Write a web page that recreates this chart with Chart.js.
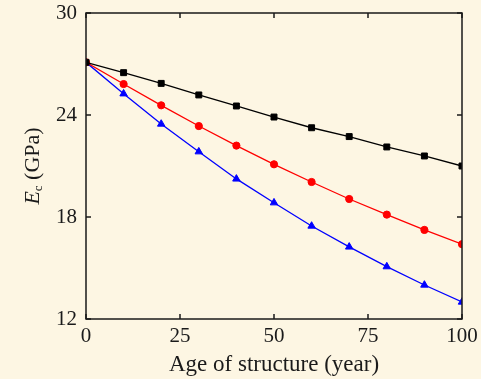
<!DOCTYPE html>
<html>
<head>
<meta charset="utf-8">
<script src="https://cdn.jsdelivr.net/npm/chart.js@4/dist/chart.umd.min.js"></script>
<style>
  html, body { margin: 0; padding: 0; background: #fdf6e3; }
  #wrap { width: 481px; height: 379px; }
</style>
</head>
<body>
<div id="wrap"><canvas id="c" width="481" height="379"></canvas></div>
<script>
// Age of structure (years)
const years = [0, 10, 20, 30, 40, 50, 60, 70, 80, 90, 100];
// Elastic modulus of concrete, E_c (GPa)
const seriesSquare   = [27.1, 26.49, 25.86, 25.18, 24.53, 23.88, 23.25, 22.73, 22.12, 21.59, 21.0];
const seriesCircle   = [27.1, 25.82, 24.57, 23.35, 22.2, 21.1, 20.06, 19.06, 18.14, 17.24, 16.4];
const seriesTriangle = [27.1, 25.25, 23.47, 21.84, 20.24, 18.84, 17.47, 16.24, 15.08, 14.0, 13.0];
// Axis ticks
const xTicks = [0, 25, 50, 75, 100];
const yTicks = [12, 18, 24, 30];

const FONT = "'Liberation Serif', 'Times New Roman', serif";
const BG = '#fdf6e3';
const INK = '#1a1a1a';

const toPoints = vals => vals.map((v, i) => ({ x: years[i], y: v }));

// Background fill for the whole canvas
const bgPlugin = {
  id: 'bg',
  beforeDraw(chart) {
    const ctx = chart.ctx;
    ctx.save();
    ctx.fillStyle = BG;
    ctx.fillRect(0, 0, chart.width, chart.height);
    ctx.restore();
  }
};

// Boxed frame with inward tick marks on all four sides
const framePlugin = {
  id: 'frame',
  afterDatasetsDraw(chart) {
    const { ctx, chartArea: a, scales } = chart;
    const len = 5;
    ctx.save();
    ctx.strokeStyle = INK;
    ctx.lineWidth = 1.5;
    ctx.beginPath();
    xTicks.forEach(v => {
      const px = scales.x.getPixelForValue(v);
      ctx.moveTo(px, a.bottom); ctx.lineTo(px, a.bottom - len);
      ctx.moveTo(px, a.top); ctx.lineTo(px, a.top + len);
    });
    yTicks.forEach(v => {
      const py = scales.y.getPixelForValue(v);
      ctx.moveTo(a.left, py); ctx.lineTo(a.left + len, py);
      ctx.moveTo(a.right, py); ctx.lineTo(a.right - len, py);
    });
    ctx.stroke();
    ctx.strokeRect(a.left, a.top, a.right - a.left, a.bottom - a.top);
    ctx.restore();
  }
};

// Y-axis title with italic symbol and subscript: E_c (GPa)
const yTitlePlugin = {
  id: 'yTitle',
  afterDraw(chart) {
    const { ctx, chartArea: a } = chart;
    const parts = [
      { t: 'E', font: `italic 22px ${FONT}`, dy: 0 },
      { t: 'c', font: `13px ${FONT}`, dy: 6 },
      { t: ' (GPa)', font: `22px ${FONT}`, dy: 0 }
    ];
    ctx.save();
    let total = 0;
    parts.forEach(p => { ctx.font = p.font; p.w = ctx.measureText(p.t).width; total += p.w; });
    const cy = (a.top + a.bottom) / 2;
    ctx.translate(33, cy);
    ctx.rotate(-Math.PI / 2);
    ctx.fillStyle = INK;
    ctx.textBaseline = 'middle';
    ctx.textAlign = 'left';
    let x = -total / 2;
    parts.forEach(p => {
      ctx.font = p.font;
      ctx.fillText(p.t, x, p.dy);
      x += p.w;
    });
    ctx.restore();
  }
};

const common = { borderWidth: 1.3, pointBorderWidth: 1, tension: 0 };

new Chart(document.getElementById('c'), {
  type: 'line',
  data: {
    datasets: [
      { ...common, data: toPoints(seriesSquare), borderColor: '#000000', backgroundColor: '#000000',
        pointStyle: 'rect', pointRadius: 4.2 },
      { ...common, data: toPoints(seriesCircle), borderColor: '#ff0000', backgroundColor: '#ff0000',
        pointStyle: 'circle', pointRadius: 3.6 },
      { ...common, data: toPoints(seriesTriangle), borderColor: '#0000ff', backgroundColor: '#0000ff',
        pointStyle: 'triangle', pointRadius: 4.3 }
    ]
  },
  options: {
    responsive: false,
    animation: false,
    events: [],
    layout: { padding: { left: 0, right: 19, top: 13, bottom: 0 } },
    plugins: { legend: { display: false }, tooltip: { enabled: false } },
    scales: {
      x: {
        type: 'linear', min: 0, max: 100,
        afterBuildTicks: s => { s.ticks = xTicks.map(v => ({ value: v })); },
        afterFit: s => { s.height = 60; s.paddingLeft = 0; s.paddingRight = 0; },
        grid: { display: false, drawTicks: false },
        border: { display: false },
        ticks: { color: INK, font: { family: FONT, size: 21 }, padding: 5, maxRotation: 0 },
        title: { display: true, text: 'Age of structure (year)', color: INK,
                 font: { family: FONT, size: 23 }, padding: { top: 0, bottom: 0 } }
      },
      y: {
        type: 'linear', min: 12, max: 30,
        afterBuildTicks: s => { s.ticks = yTicks.map(v => ({ value: v })); },
        afterFit: s => { s.width = 86; s.paddingTop = 0; s.paddingBottom = 0; },
        grid: { display: false, drawTicks: false },
        border: { display: false },
        ticks: { color: INK, font: { family: FONT, size: 21 }, padding: 9 }
      }
    }
  },
  plugins: [bgPlugin, framePlugin, yTitlePlugin]
});
</script>
</body>
</html>
